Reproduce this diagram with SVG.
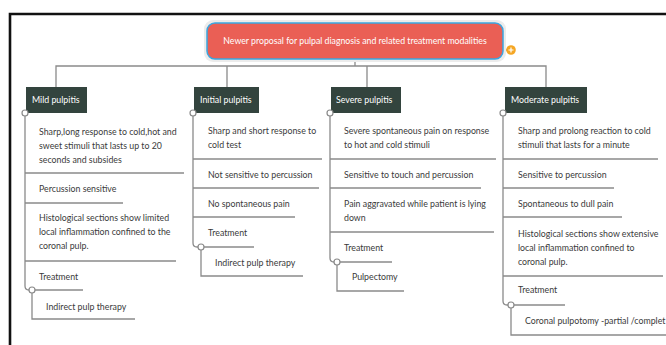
<svg xmlns="http://www.w3.org/2000/svg" width="666" height="345" viewBox="0 0 666 345">
<style>
.ln{fill:none;stroke:#8a8a8a;stroke-width:1.3}
.dot{fill:#fff;stroke:#8a8a8a;stroke-width:1.2}
.t{font-family:Lato,"Open Sans",sans-serif;font-size:10px;fill:#3a3a3a}
.h{fill:#33443e}
.ht{font-family:Lato,"Open Sans",sans-serif;font-size:10px;fill:#fff}
</style>
<rect width="666" height="345" fill="#fff"/>
<path d="M10,345 V14 H666" fill="none" stroke="#111" stroke-width="2.6"/>
<g id="connectors">
<path class="ln" d="M355,59 V66 M56,87 V66 H546 V87 M227,66 V87 M367,66 V87"/>
<line class="ln" x1="503" y1="50" x2="507" y2="50"/>
<path class="ln" d="M25,113 V286 Q25,290 29,290 H83"/>
<path class="ln" d="M25,173 H184 M25,203 H123 M25,261 H176"/>
<path class="ln" d="M32,293 V319 H135"/>
<path class="ln" d="M193,113 V243 Q193,247 197,247 H254"/>
<path class="ln" d="M193,159 H322 M193,188 H319 M193,217 H295"/>
<path class="ln" d="M201,250 V276 H303"/>
<path class="ln" d="M330,113 V258 Q330,262 334,262 H392"/>
<path class="ln" d="M330,159 H496 M330,188 H481 M330,232 H494"/>
<path class="ln" d="M337,265 V291 H404"/>
<path class="ln" d="M503,113 V301 Q503,305 507,305 H565"/>
<path class="ln" d="M503,159 H658 M503,188 H614 M503,217 H622 M503,276 H663"/>
<path class="ln" d="M511,308 V335 H666"/>
</g>
<g id="root">
<rect x="204" y="20" width="302" height="42" rx="9" fill="#ececec"/>
<rect x="207" y="23" width="296" height="36" rx="8" fill="#ea5f55" stroke="#3aa6e0" stroke-width="1.5"/>
<text class="ht" x="0" y="44" text-anchor="middle" font-size="10.5" transform="translate(355,0) scale(.875,1)">Newer proposal for pulpal diagnosis and related treatment modalities</text>
<circle cx="511" cy="50" r="4.8" fill="#f5a623"/>
<path d="M508.5,50 H513.5 M511,47.5 V52.5" stroke="#fff" stroke-width="1.2"/>
</g>
<g id="mild">
<rect class="h" x="26" y="87" width="61" height="26"/>
<text class="ht" x="0" y="103" transform="translate(32,0) scale(.88,1)">Mild pulpitis</text>
<circle class="dot" cx="25" cy="113" r="3"/>
<g transform="translate(39,0) scale(.88,1)">
<text class="t" x="0" y="135">Sharp,long response to cold,hot and</text>
<text class="t" x="0" y="149">sweet stimuli that lasts up to 20</text>
<text class="t" x="0" y="163">seconds and subsides</text>
<text class="t" x="0" y="192">Percussion sensitive</text>
<text class="t" x="0" y="221">Histological sections show limited</text>
<text class="t" x="0" y="235">local inflammation confined to the</text>
<text class="t" x="0" y="249">coronal pulp.</text>
<text class="t" x="0" y="280">Treatment</text>
<text class="t" x="8" y="310">Indirect pulp therapy</text>
</g>
<circle class="dot" cx="32" cy="290" r="3"/>
</g>
<g id="initial">
<rect class="h" x="194" y="87" width="65" height="26"/>
<text class="ht" x="0" y="103" transform="translate(200,0) scale(.88,1)">Initial pulpitis</text>
<circle class="dot" cx="193" cy="113" r="3"/>
<g transform="translate(208,0) scale(.88,1)">
<text class="t" x="0" y="134">Sharp and short response to</text>
<text class="t" x="0" y="148">cold test</text>
<text class="t" x="0" y="178">Not sensitive to percussion</text>
<text class="t" x="0" y="207">No spontaneous pain</text>
<text class="t" x="0" y="236">Treatment</text>
<text class="t" x="8" y="266">Indirect pulp therapy</text>
</g>
<circle class="dot" cx="201" cy="247" r="3"/>
</g>
<g id="severe">
<rect class="h" x="331" y="87" width="70" height="26"/>
<text class="ht" x="0" y="103" transform="translate(336,0) scale(.88,1)">Severe pulpitis</text>
<circle class="dot" cx="330" cy="113" r="3"/>
<g transform="translate(344,0) scale(.88,1)">
<text class="t" x="0" y="134">Severe spontaneous pain on response</text>
<text class="t" x="0" y="148">to hot and cold stimuli</text>
<text class="t" x="0" y="178">Sensitive to touch and percussion</text>
<text class="t" x="0" y="207">Pain aggravated while patient is lying</text>
<text class="t" x="0" y="221">down</text>
<text class="t" x="0" y="251">Treatment</text>
<text class="t" x="9" y="280">Pulpectomy</text>
</g>
<circle class="dot" cx="337" cy="262" r="3"/>
</g>
<g id="moderate">
<rect class="h" x="505" y="87" width="82" height="26"/>
<text class="ht" x="0" y="103" transform="translate(511,0) scale(.88,1)">Moderate pulpitis</text>
<circle class="dot" cx="503" cy="113" r="3"/>
<g transform="translate(518,0) scale(.88,1)">
<text class="t" x="0" y="134">Sharp and prolong reaction to cold</text>
<text class="t" x="0" y="148">stimuli that lasts for a minute</text>
<text class="t" x="0" y="178">Sensitive to percussion</text>
<text class="t" x="0" y="207">Spontaneous to dull pain</text>
<text class="t" x="0" y="237">Histological sections show extensive</text>
<text class="t" x="0" y="251">local inflammation confined to</text>
<text class="t" x="0" y="265">coronal pulp.</text>
<text class="t" x="0" y="293">Treatment</text>
<text class="t" x="8" y="324">Coronal pulpotomy -partial /complet</text>
</g>
<circle class="dot" cx="511" cy="305" r="3"/>
</g>
</svg>
